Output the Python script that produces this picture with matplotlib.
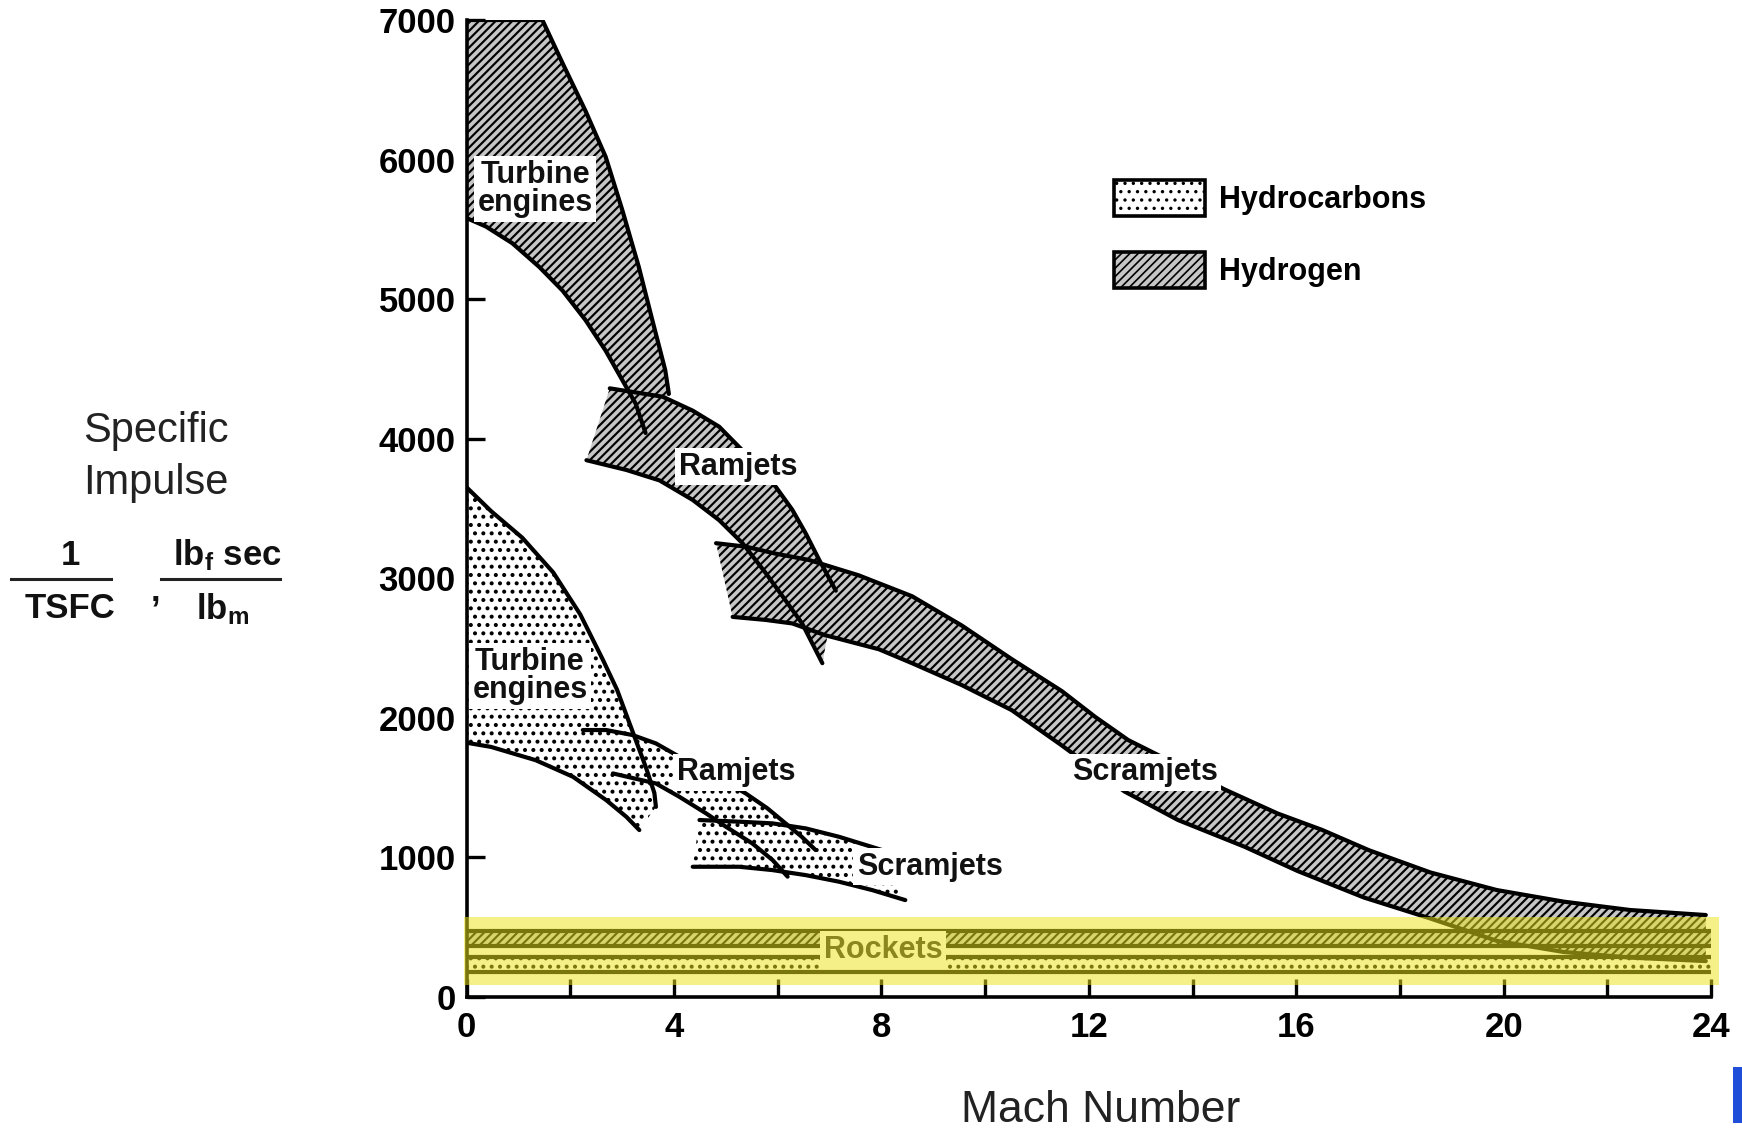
import matplotlib
matplotlib.use('Agg')
import matplotlib.pyplot as plt
from matplotlib.patches import Polygon, Rectangle, Patch
from matplotlib.lines import Line2D
import numpy as np

plt.rcParams['font.family'] = ['Liberation Sans', 'DejaVu Sans']
plt.rcParams['hatch.linewidth'] = 1.2
plt.rcParams['mathtext.fontset'] = 'custom'
plt.rcParams['mathtext.rm'] = 'Liberation Sans'
plt.rcParams['mathtext.bf'] = 'Liberation Sans:bold'
plt.rcParams['mathtext.it'] = 'Liberation Sans:italic'

# ---------------- data (Mach number, specific impulse in sec) ----------------
# Hydrogen turbine engines
H2_TURB_UP_M   = [0, 1.46, 1.85, 2.29, 2.68, 3.0, 3.32, 3.58, 3.83, 3.9]
H2_TURB_UP_ISP = [7000, 7000, 6690, 6350, 6020, 5640, 5230, 4850, 4490, 4320]
H2_TURB_LO_M   = [0, 0.37, 0.88, 1.40, 1.85, 2.29, 2.68, 3.0, 3.26, 3.45]
H2_TURB_LO_ISP = [5580, 5520, 5400, 5230, 5060, 4850, 4630, 4420, 4250, 4040]

# Hydrogen ramjets
H2_RAM_UP_M   = [2.76, 3.78, 4.36, 4.87, 5.32, 5.96, 6.28, 6.54, 6.8, 7.12]
H2_RAM_UP_ISP = [4360, 4300, 4200, 4085, 3915, 3655, 3490, 3320, 3130, 2910]
H2_RAM_LO_M   = [2.31, 3.08, 3.72, 4.36, 4.87, 5.32, 5.77, 6.15, 6.47, 6.86]
H2_RAM_LO_ISP = [3845, 3775, 3700, 3560, 3415, 3250, 3035, 2840, 2675, 2390]

# Hydrogen scramjets
H2_SCR_UP_M   = [4.81, 5.39, 5.96, 6.6, 7.56, 8.59, 9.55, 10.51, 11.48, 12.12, 12.76,
                 13.4, 14.62, 15.64, 16.5, 17.4, 18.59, 19.87, 21.16, 22.44, 23.9]
H2_SCR_UP_ISP = [3250, 3225, 3175, 3130, 3020, 2870, 2660, 2420, 2190, 2006, 1839,
                 1720, 1485, 1313, 1195, 1050, 890, 764, 681, 621, 585]
H2_SCR_LO_M   = [5.13, 5.77, 6.28, 6.92, 7.95, 8.59, 9.55, 10.51, 11.48, 12.69, 13.72,
                 15.0, 16.03, 17.31, 18.59, 19.87, 21.16, 22.44, 23.9]
H2_SCR_LO_ISP = [2722, 2700, 2675, 2590, 2490, 2390, 2233, 2054, 1800, 1470, 1266,
                 1075, 900, 710, 560, 400, 320, 280, 255]

# Hydrocarbon turbine engines
HC_TURB_UP_M   = [0, 0.47, 1.07, 1.67, 2.19, 2.62, 2.9, 3.1, 3.27, 3.46, 3.62, 3.65]
HC_TURB_UP_ISP = [3650, 3480, 3290, 3040, 2740, 2420, 2200, 2000, 1830, 1640, 1460, 1360]
HC_TURB_LO_M   = [0, 0.47, 1.33, 2.05, 2.69, 3.08, 3.33]
HC_TURB_LO_ISP = [1820, 1790, 1695, 1576, 1409, 1289, 1194]

# Hydrocarbon ramjets
HC_RAM_UP_M   = [2.24, 2.69, 3.2, 3.65, 4.1, 4.9, 5.38, 5.8, 6.15, 6.45, 6.73]
HC_RAM_UP_ISP = [1911, 1911, 1875, 1815, 1720, 1560, 1457, 1350, 1242, 1150, 1051]
HC_RAM_LO_M   = [2.82, 3.65, 4.1, 4.62, 5.0, 5.51, 5.9, 6.19]
HC_RAM_LO_ISP = [1600, 1528, 1433, 1313, 1218, 1098, 979, 860]

# Hydrocarbon scramjets
HC_SCR_UP_M   = [4.49, 5.26, 5.9, 6.54, 7.18, 8.01]
HC_SCR_UP_ISP = [1266, 1254, 1242, 1206, 1146, 1051]
HC_SCR_LO_M   = [4.36, 5.26, 5.9, 6.54, 7.18, 7.82, 8.46]
HC_SCR_LO_ISP = [931, 931, 907, 871, 824, 764, 692]

# Rockets
ROCKET_M          = [0, 24]
H2_ROCKET_UP_ISP  = [470, 470]
H2_ROCKET_LO_ISP  = [360, 360]
HC_ROCKET_UP_ISP  = [285, 285]
HC_ROCKET_LO_ISP  = [175, 175]

# Region labels: (text, Mach, Isp)
REGION_LABELS = [
    ('Turbine\nengines', 1.32, 5790),
    ('Ramjets', 5.24, 3798),
    ('Scramjets', 13.08, 1608),
    ('Turbine\nengines', 1.22, 2300),
    ('Ramjets', 5.19, 1608),
    ('Scramjets', 8.93, 932),
]
ROCKET_LABEL = ('Rockets', 8.03, 334)

X_TICKS = [0, 2, 4, 6, 8, 10, 12, 14, 16, 18, 20, 22, 24]
X_TICK_LABELS = ['0', '', '4', '', '8', '', '12', '', '16', '', '20', '', '24']
Y_TICKS = [0, 1000, 2000, 3000, 4000, 5000, 6000, 7000]
Y_TICK_LABELS = ['0', '1000', '2000', '3000', '4000', '5000', '6000', '7000']

LEGEND_LABELS = ['Hydrocarbons', 'Hydrogen']

# ---------------- figure ----------------
fig = plt.figure(figsize=(17.42, 11.30), dpi=100)
ax = fig.add_axes([0.2679, 0.1180, 0.7143, 0.8643])
ax.set_xlim(0, 24)
ax.set_ylim(0, 7000)

H2_HATCH = '////'
HC_HATCH = '..'
H2_HATCH_LW = 1.55
HC_HATCH_LW = 1.7
H2_FACE = '#c6c6c6'
HC_FACE = 'white'
EDGE_LW = 3.0


def make_patch(cls, *args, hatch, **kw):
    hlw = H2_HATCH_LW if hatch == H2_HATCH else HC_HATCH_LW
    with plt.rc_context({'hatch.linewidth': hlw}):
        p = cls(*args, hatch=hatch, **kw)
    try:
        p.set_hatch_linewidth(hlw)
    except AttributeError:
        pass
    return p


def band(up_m, up_isp, lo_m, lo_isp, hatch):
    xs = list(up_m) + list(lo_m)[::-1]
    ys = list(up_isp) + list(lo_isp)[::-1]
    face = H2_FACE if hatch == H2_HATCH else HC_FACE
    poly = make_patch(Polygon, np.column_stack([xs, ys]), closed=True,
                      facecolor=face, edgecolor='black', hatch=hatch,
                      linewidth=0, zorder=2)
    ax.add_patch(poly)


def edges(up_m, up_isp, lo_m, lo_isp):
    for m, isp in ((up_m, up_isp), (lo_m, lo_isp)):
        ax.plot(m, isp, color='black', lw=EDGE_LW, solid_capstyle='round',
                solid_joinstyle='round', zorder=4)


bands = [
    (HC_TURB_UP_M, HC_TURB_UP_ISP, HC_TURB_LO_M, HC_TURB_LO_ISP, HC_HATCH),
    (HC_RAM_UP_M, HC_RAM_UP_ISP, HC_RAM_LO_M, HC_RAM_LO_ISP, HC_HATCH),
    (HC_SCR_UP_M, HC_SCR_UP_ISP, HC_SCR_LO_M, HC_SCR_LO_ISP, HC_HATCH),
    (H2_TURB_UP_M, H2_TURB_UP_ISP, H2_TURB_LO_M, H2_TURB_LO_ISP, H2_HATCH),
    (H2_RAM_UP_M, H2_RAM_UP_ISP, H2_RAM_LO_M, H2_RAM_LO_ISP, H2_HATCH),
    (H2_SCR_UP_M, H2_SCR_UP_ISP, H2_SCR_LO_M, H2_SCR_LO_ISP, H2_HATCH),
    (ROCKET_M, H2_ROCKET_UP_ISP, ROCKET_M, H2_ROCKET_LO_ISP, H2_HATCH),
    (ROCKET_M, HC_ROCKET_UP_ISP, ROCKET_M, HC_ROCKET_LO_ISP, HC_HATCH),
]
for b in bands:
    band(*b)
for b in bands:
    edges(*b[:4])

label_box = dict(boxstyle='square,pad=0.12', fc='white', ec='none')
for txt, m, isp in REGION_LABELS:
    ax.text(m, isp, txt, ha='center', va='center', fontsize=22, fontweight='bold',
            linespacing=0.92, color='#111111', bbox=label_box, zorder=6)
ax.text(ROCKET_LABEL[1], ROCKET_LABEL[2], ROCKET_LABEL[0], ha='center', va='center',
        fontsize=22, fontweight='bold', color='#222222', bbox=label_box, zorder=6)

# yellow highlighter over the rocket band
ax.add_patch(Rectangle((-0.06, 83), 24.21, 487, facecolor='#ece41c', edgecolor='none',
                       alpha=0.52, zorder=10, clip_on=False))

# axes styling
for s in ('top', 'right'):
    ax.spines[s].set_visible(False)
for s in ('left', 'bottom'):
    ax.spines[s].set_linewidth(2.6)
    ax.spines[s].set_color('black')
ax.set_xticks(X_TICKS)
ax.set_xticklabels(X_TICK_LABELS)
ax.set_yticks(Y_TICKS)
ax.set_yticklabels(Y_TICK_LABELS)
ax.tick_params(direction='in', length=13, width=2.4, labelsize=25, colors='black')
ax.tick_params(axis='x', pad=10)
ax.tick_params(axis='y', pad=8)
for lbl in ax.get_xticklabels() + ax.get_yticklabels():
    lbl.set_fontweight('bold')

# legend
handles = [make_patch(Patch, facecolor=HC_FACE, edgecolor='black', hatch=HC_HATCH,
                      linewidth=2.6, label=LEGEND_LABELS[0]),
           make_patch(Patch, facecolor=H2_FACE, edgecolor='black', hatch=H2_HATCH,
                      linewidth=2.6, label=LEGEND_LABELS[1])]
ax.legend(handles=handles, loc='upper left', bbox_to_anchor=(0.52, 0.836),
          frameon=False, prop={'weight': 'bold', 'size': 22}, handlelength=3.0,
          handleheight=1.45, handletextpad=0.45, labelspacing=1.15, borderpad=0,
          borderaxespad=0)

# axis titles
fig.text(0.632, 0.017, 'Mach Number', ha='center', va='center', fontsize=32,
         color='#222222')
fig.text(0.0893, 0.6185, 'Specific', ha='center', va='center', fontsize=30,
         color='#222222')
fig.text(0.0893, 0.5723, 'Impulse', ha='center', va='center', fontsize=30,
         color='#222222')
fig.text(0.0402, 0.5083, '1', ha='center', va='center', fontsize=25,
         fontweight='bold', color='#111111')
fig.text(0.0402, 0.4612, 'TSFC', ha='center', va='center', fontsize=25,
         fontweight='bold', color='#111111')
fig.text(0.0893, 0.477, ',', ha='center', va='center', fontsize=25,
         fontweight='bold', color='#111111')
fig.text(0.1307, 0.5083, r'lb$_{\mathbf{f}}$ sec', ha='center', va='center',
         fontsize=25, fontweight='bold', color='#111111')
fig.text(0.1276, 0.4612, r'lb$_{\mathbf{m}}$', ha='center', va='center',
         fontsize=25, fontweight='bold', color='#111111')
fig.add_artist(Line2D([0.0064, 0.0638], [0.4877, 0.4877], transform=fig.transFigure,
                      color='#222222', lw=2.2))
fig.add_artist(Line2D([0.0925, 0.1607], [0.4877, 0.4877], transform=fig.transFigure,
                      color='#222222', lw=2.2))

# cropped logo fragment at the right edge
fig.add_artist(Rectangle((0.995, 0.006), 0.005, 0.05, transform=fig.transFigure,
                         facecolor='#1f4fd8', edgecolor='none'))

fig.savefig('out.png', dpi=100)
